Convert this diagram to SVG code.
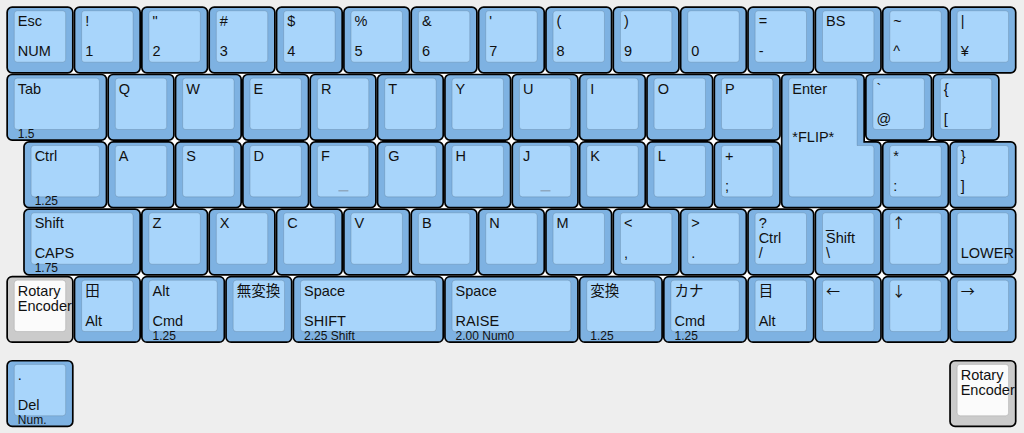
<svg xmlns="http://www.w3.org/2000/svg" width="1024" height="433" viewBox="0 0 1024 433">
<style>
.o{fill:#7eb2e2;stroke:#000;stroke-width:1.7;rx:5px;ry:5px}
.i{fill:#a8d5fb;stroke:rgba(0,0,0,0.13);stroke-width:1;rx:3px;ry:3px}
.og{fill:#cbcbcb;stroke:#000;stroke-width:1.7;rx:5px;ry:5px}
.ig{fill:#fbfbfb;stroke:rgba(0,0,0,0.13);stroke-width:1;rx:3px;ry:3px}
.po{fill:#7eb2e2;stroke:#000;stroke-width:1.7}
.pi{fill:#a8d5fb;stroke:rgba(0,0,0,0.13);stroke-width:1}
text{font-family:"Liberation Sans","DejaVu Sans","Noto Sans CJK JP",sans-serif;font-size:14.5px;fill:#111}
text.f{font-size:12px}
text.ar{font-family:"Noto Sans CJK JP","DejaVu Sans",sans-serif;font-size:14px}
.nub{fill:#8ea8c0}
.gap{fill:#ffffff}
</style>
<rect width="1024" height="433" fill="#eeeeee"/>
<g id="gaps">
<rect class="gap" x="12.3" y="69.65" width="981.4" height="8"/>
<rect class="gap" x="29.14" y="137" width="964.56" height="8"/>
<rect class="gap" x="29.14" y="204.35" width="981.41" height="8"/>
<rect class="gap" x="29.14" y="271.7" width="981.41" height="8"/>
</g>
<!-- Row 0 -->
<g id="k-esc" transform="translate(6.3,6.3)"><rect class="o" x="0.85" y="0.85" width="65.65" height="65.65"/><rect class="i" x="8" y="4.5" width="51.35" height="51.35"/><text x="11.5" y="20">Esc</text><text x="11.5" y="50">NUM</text></g>
<g id="k-1" transform="translate(73.65,6.3)"><rect class="o" x="0.85" y="0.85" width="65.65" height="65.65"/><rect class="i" x="8" y="4.5" width="51.35" height="51.35"/><text x="11.5" y="20">!</text><text x="11.5" y="50">1</text></g>
<g id="k-2" transform="translate(141,6.3)"><rect class="o" x="0.85" y="0.85" width="65.65" height="65.65"/><rect class="i" x="8" y="4.5" width="51.35" height="51.35"/><text x="11.5" y="20">&quot;</text><text x="11.5" y="50">2</text></g>
<g id="k-3" transform="translate(208.35,6.3)"><rect class="o" x="0.85" y="0.85" width="65.65" height="65.65"/><rect class="i" x="8" y="4.5" width="51.35" height="51.35"/><text x="11.5" y="20">#</text><text x="11.5" y="50">3</text></g>
<g id="k-4" transform="translate(275.7,6.3)"><rect class="o" x="0.85" y="0.85" width="65.65" height="65.65"/><rect class="i" x="8" y="4.5" width="51.35" height="51.35"/><text x="11.5" y="20">$</text><text x="11.5" y="50">4</text></g>
<g id="k-5" transform="translate(343.05,6.3)"><rect class="o" x="0.85" y="0.85" width="65.65" height="65.65"/><rect class="i" x="8" y="4.5" width="51.35" height="51.35"/><text x="11.5" y="20">%</text><text x="11.5" y="50">5</text></g>
<g id="k-6" transform="translate(410.4,6.3)"><rect class="o" x="0.85" y="0.85" width="65.65" height="65.65"/><rect class="i" x="8" y="4.5" width="51.35" height="51.35"/><text x="11.5" y="20">&amp;</text><text x="11.5" y="50">6</text></g>
<g id="k-7" transform="translate(477.75,6.3)"><rect class="o" x="0.85" y="0.85" width="65.65" height="65.65"/><rect class="i" x="8" y="4.5" width="51.35" height="51.35"/><text x="11.5" y="20">'</text><text x="11.5" y="50">7</text></g>
<g id="k-8" transform="translate(545.1,6.3)"><rect class="o" x="0.85" y="0.85" width="65.65" height="65.65"/><rect class="i" x="8" y="4.5" width="51.35" height="51.35"/><text x="11.5" y="20">(</text><text x="11.5" y="50">8</text></g>
<g id="k-9" transform="translate(612.45,6.3)"><rect class="o" x="0.85" y="0.85" width="65.65" height="65.65"/><rect class="i" x="8" y="4.5" width="51.35" height="51.35"/><text x="11.5" y="20">)</text><text x="11.5" y="50">9</text></g>
<g id="k-0" transform="translate(679.8,6.3)"><rect class="o" x="0.85" y="0.85" width="65.65" height="65.65"/><rect class="i" x="8" y="4.5" width="51.35" height="51.35"/><text x="11.5" y="50">0</text></g>
<g id="k-minus" transform="translate(747.15,6.3)"><rect class="o" x="0.85" y="0.85" width="65.65" height="65.65"/><rect class="i" x="8" y="4.5" width="51.35" height="51.35"/><text x="11.5" y="20">=</text><text x="11.5" y="50">-</text></g>
<g id="k-bs" transform="translate(814.5,6.3)"><rect class="o" x="0.85" y="0.85" width="65.65" height="65.65"/><rect class="i" x="8" y="4.5" width="51.35" height="51.35"/><text x="11.5" y="20">BS</text></g>
<g id="k-caret" transform="translate(881.85,6.3)"><rect class="o" x="0.85" y="0.85" width="65.65" height="65.65"/><rect class="i" x="8" y="4.5" width="51.35" height="51.35"/><text x="11.5" y="20">~</text><text x="11.5" y="50">^</text></g>
<g id="k-yen" transform="translate(949.2,6.3)"><rect class="o" x="0.85" y="0.85" width="65.65" height="65.65"/><rect class="i" x="8" y="4.5" width="51.35" height="51.35"/><text x="11.5" y="20">|</text><text x="11.5" y="50">¥</text></g>
<!-- Row 1 -->
<g id="k-tab" transform="translate(6.3,73.65)"><rect class="o" x="0.85" y="0.85" width="99.33" height="65.65"/><rect class="i" x="8" y="4.5" width="85.03" height="51.35"/><text x="11.5" y="20">Tab</text><text class="f" x="11.5" y="64">1.5</text></g>
<g id="k-q" transform="translate(107.33,73.65)"><rect class="o" x="0.85" y="0.85" width="65.65" height="65.65"/><rect class="i" x="8" y="4.5" width="51.35" height="51.35"/><text x="11.5" y="20">Q</text></g>
<g id="k-w" transform="translate(174.68,73.65)"><rect class="o" x="0.85" y="0.85" width="65.65" height="65.65"/><rect class="i" x="8" y="4.5" width="51.35" height="51.35"/><text x="11.5" y="20">W</text></g>
<g id="k-e" transform="translate(242.03,73.65)"><rect class="o" x="0.85" y="0.85" width="65.65" height="65.65"/><rect class="i" x="8" y="4.5" width="51.35" height="51.35"/><text x="11.5" y="20">E</text></g>
<g id="k-r" transform="translate(309.38,73.65)"><rect class="o" x="0.85" y="0.85" width="65.65" height="65.65"/><rect class="i" x="8" y="4.5" width="51.35" height="51.35"/><text x="11.5" y="20">R</text></g>
<g id="k-t" transform="translate(376.73,73.65)"><rect class="o" x="0.85" y="0.85" width="65.65" height="65.65"/><rect class="i" x="8" y="4.5" width="51.35" height="51.35"/><text x="11.5" y="20">T</text></g>
<g id="k-y" transform="translate(444.08,73.65)"><rect class="o" x="0.85" y="0.85" width="65.65" height="65.65"/><rect class="i" x="8" y="4.5" width="51.35" height="51.35"/><text x="11.5" y="20">Y</text></g>
<g id="k-u" transform="translate(511.43,73.65)"><rect class="o" x="0.85" y="0.85" width="65.65" height="65.65"/><rect class="i" x="8" y="4.5" width="51.35" height="51.35"/><text x="11.5" y="20">U</text></g>
<g id="k-i" transform="translate(578.78,73.65)"><rect class="o" x="0.85" y="0.85" width="65.65" height="65.65"/><rect class="i" x="8" y="4.5" width="51.35" height="51.35"/><text x="11.5" y="20">I</text></g>
<g id="k-o" transform="translate(646.13,73.65)"><rect class="o" x="0.85" y="0.85" width="65.65" height="65.65"/><rect class="i" x="8" y="4.5" width="51.35" height="51.35"/><text x="11.5" y="20">O</text></g>
<g id="k-p" transform="translate(713.48,73.65)"><rect class="o" x="0.85" y="0.85" width="65.65" height="65.65"/><rect class="i" x="8" y="4.5" width="51.35" height="51.35"/><text x="11.5" y="20">P</text></g>
<g id="k-at" transform="translate(865.01,73.65)"><rect class="o" x="0.85" y="0.85" width="65.65" height="65.65"/><rect class="i" x="8" y="4.5" width="51.35" height="51.35"/><text x="11.5" y="20">`</text><text x="11.5" y="50">@</text></g>
<g id="k-lbracket" transform="translate(932.36,73.65)"><rect class="o" x="0.85" y="0.85" width="65.65" height="65.65"/><rect class="i" x="8" y="4.5" width="51.35" height="51.35"/><text x="11.5" y="20">{</text><text x="11.5" y="50">[</text></g>
<!-- Row 2 -->
<g id="k-ctrl" transform="translate(23.14,141)"><rect class="o" x="0.85" y="0.85" width="82.49" height="65.65"/><rect class="i" x="8" y="4.5" width="68.19" height="51.35"/><text x="11.5" y="20">Ctrl</text><text class="f" x="11.5" y="64">1.25</text></g>
<g id="k-a" transform="translate(107.33,141)"><rect class="o" x="0.85" y="0.85" width="65.65" height="65.65"/><rect class="i" x="8" y="4.5" width="51.35" height="51.35"/><text x="11.5" y="20">A</text></g>
<g id="k-s" transform="translate(174.68,141)"><rect class="o" x="0.85" y="0.85" width="65.65" height="65.65"/><rect class="i" x="8" y="4.5" width="51.35" height="51.35"/><text x="11.5" y="20">S</text></g>
<g id="k-d" transform="translate(242.03,141)"><rect class="o" x="0.85" y="0.85" width="65.65" height="65.65"/><rect class="i" x="8" y="4.5" width="51.35" height="51.35"/><text x="11.5" y="20">D</text></g>
<g id="k-f" transform="translate(309.38,141)"><rect class="o" x="0.85" y="0.85" width="65.65" height="65.65"/><rect class="i" x="8" y="4.5" width="51.35" height="51.35"/><text x="11.5" y="20">F</text><rect class="nub" x="29" y="49" width="10" height="1.5"/></g>
<g id="k-g" transform="translate(376.73,141)"><rect class="o" x="0.85" y="0.85" width="65.65" height="65.65"/><rect class="i" x="8" y="4.5" width="51.35" height="51.35"/><text x="11.5" y="20">G</text></g>
<g id="k-h" transform="translate(444.08,141)"><rect class="o" x="0.85" y="0.85" width="65.65" height="65.65"/><rect class="i" x="8" y="4.5" width="51.35" height="51.35"/><text x="11.5" y="20">H</text></g>
<g id="k-j" transform="translate(511.43,141)"><rect class="o" x="0.85" y="0.85" width="65.65" height="65.65"/><rect class="i" x="8" y="4.5" width="51.35" height="51.35"/><text x="11.5" y="20">J</text><rect class="nub" x="29" y="49" width="10" height="1.5"/></g>
<g id="k-k" transform="translate(578.78,141)"><rect class="o" x="0.85" y="0.85" width="65.65" height="65.65"/><rect class="i" x="8" y="4.5" width="51.35" height="51.35"/><text x="11.5" y="20">K</text></g>
<g id="k-l" transform="translate(646.13,141)"><rect class="o" x="0.85" y="0.85" width="65.65" height="65.65"/><rect class="i" x="8" y="4.5" width="51.35" height="51.35"/><text x="11.5" y="20">L</text></g>
<g id="k-semicolon" transform="translate(713.48,141)"><rect class="o" x="0.85" y="0.85" width="65.65" height="65.65"/><rect class="i" x="8" y="4.5" width="51.35" height="51.35"/><text x="11.5" y="20">+</text><text x="11.5" y="50">;</text></g>
<g id="k-colon" transform="translate(881.85,141)"><rect class="o" x="0.85" y="0.85" width="65.65" height="65.65"/><rect class="i" x="8" y="4.5" width="51.35" height="51.35"/><text x="11.5" y="20">*</text><text x="11.5" y="50">:</text></g>
<g id="k-rbracket" transform="translate(949.2,141)"><rect class="o" x="0.85" y="0.85" width="65.65" height="65.65"/><rect class="i" x="8" y="4.5" width="51.35" height="51.35"/><text x="11.5" y="20">}</text><text x="11.5" y="50">]</text></g>
<!-- Enter -->
<g id="k-enter" transform="translate(780.83,73.65)"><path class="po" d="M5.85,0.85 H78.34 Q83.34,0.85 83.34,5.85 V68.2 H95.18 Q100.18,68.2 100.18,73.2 V128.85 Q100.18,133.85 95.18,133.85 H5.85 Q0.85,133.85 0.85,128.85 V5.85 Q0.85,0.85 5.85,0.85 Z"/><path class="pi" d="M11,4.5 H73.19 Q76.19,4.5 76.19,7.5 V71.85 H90.03 Q93.03,71.85 93.03,74.85 V120.2 Q93.03,123.2 90.03,123.2 H11 Q8,123.2 8,120.2 V7.5 Q8,4.5 11,4.5 Z"/><text x="11.5" y="20">Enter</text><text x="11.5" y="68">*FLIP*</text></g>
<!-- Row 3 -->
<g id="k-lshift" transform="translate(23.14,208.35)"><rect class="o" x="0.85" y="0.85" width="116.16" height="65.65"/><rect class="i" x="8" y="4.5" width="101.86" height="51.35"/><text x="11.5" y="20">Shift</text><text x="11.5" y="50">CAPS</text><text class="f" x="11.5" y="64">1.75</text></g>
<g id="k-z" transform="translate(141,208.35)"><rect class="o" x="0.85" y="0.85" width="65.65" height="65.65"/><rect class="i" x="8" y="4.5" width="51.35" height="51.35"/><text x="11.5" y="20">Z</text></g>
<g id="k-x" transform="translate(208.35,208.35)"><rect class="o" x="0.85" y="0.85" width="65.65" height="65.65"/><rect class="i" x="8" y="4.5" width="51.35" height="51.35"/><text x="11.5" y="20">X</text></g>
<g id="k-c" transform="translate(275.7,208.35)"><rect class="o" x="0.85" y="0.85" width="65.65" height="65.65"/><rect class="i" x="8" y="4.5" width="51.35" height="51.35"/><text x="11.5" y="20">C</text></g>
<g id="k-v" transform="translate(343.05,208.35)"><rect class="o" x="0.85" y="0.85" width="65.65" height="65.65"/><rect class="i" x="8" y="4.5" width="51.35" height="51.35"/><text x="11.5" y="20">V</text></g>
<g id="k-b" transform="translate(410.4,208.35)"><rect class="o" x="0.85" y="0.85" width="65.65" height="65.65"/><rect class="i" x="8" y="4.5" width="51.35" height="51.35"/><text x="11.5" y="20">B</text></g>
<g id="k-n" transform="translate(477.75,208.35)"><rect class="o" x="0.85" y="0.85" width="65.65" height="65.65"/><rect class="i" x="8" y="4.5" width="51.35" height="51.35"/><text x="11.5" y="20">N</text></g>
<g id="k-m" transform="translate(545.1,208.35)"><rect class="o" x="0.85" y="0.85" width="65.65" height="65.65"/><rect class="i" x="8" y="4.5" width="51.35" height="51.35"/><text x="11.5" y="20">M</text></g>
<g id="k-comma" transform="translate(612.45,208.35)"><rect class="o" x="0.85" y="0.85" width="65.65" height="65.65"/><rect class="i" x="8" y="4.5" width="51.35" height="51.35"/><text x="11.5" y="20">&lt;</text><text x="11.5" y="50">,</text></g>
<g id="k-period" transform="translate(679.8,208.35)"><rect class="o" x="0.85" y="0.85" width="65.65" height="65.65"/><rect class="i" x="8" y="4.5" width="51.35" height="51.35"/><text x="11.5" y="20">&gt;</text><text x="11.5" y="50">.</text></g>
<g id="k-slash" transform="translate(747.15,208.35)"><rect class="o" x="0.85" y="0.85" width="65.65" height="65.65"/><rect class="i" x="8" y="4.5" width="51.35" height="51.35"/><text x="11.5" y="20">?</text><text x="11.5" y="35">Ctrl</text><text x="11.5" y="50">/</text></g>
<g id="k-backslash" transform="translate(814.5,208.35)"><rect class="o" x="0.85" y="0.85" width="65.65" height="65.65"/><rect class="i" x="8" y="4.5" width="51.35" height="51.35"/><text x="11.5" y="20">_</text><text x="11.5" y="35">Shift</text><text x="11.5" y="50">\</text></g>
<g id="k-up" transform="translate(881.85,208.35)"><rect class="o" x="0.85" y="0.85" width="65.65" height="65.65"/><rect class="i" x="8" y="4.5" width="51.35" height="51.35"/><text class="ar" x="10" y="20">↑</text></g>
<g id="k-lower" transform="translate(949.2,208.35)"><rect class="o" x="0.85" y="0.85" width="65.65" height="65.65"/><rect class="i" x="8" y="4.5" width="51.35" height="51.35"/><text x="11.5" y="50">LOWER</text></g>
<!-- Row 4 -->
<g id="k-rotary-left" transform="translate(6.3,275.7)"><rect class="og" x="0.85" y="0.85" width="65.65" height="65.65"/><rect class="ig" x="8" y="4.5" width="51.35" height="51.35"/><text x="11.5" y="20">Rotary</text><text x="11.5" y="35">Encoder</text></g>
<g id="k-win" transform="translate(73.65,275.7)"><rect class="o" x="0.85" y="0.85" width="65.65" height="65.65"/><rect class="i" x="8" y="4.5" width="51.35" height="51.35"/><text x="11.5" y="20">田</text><text x="11.5" y="50">Alt</text></g>
<g id="k-alt" transform="translate(141,275.7)"><rect class="o" x="0.85" y="0.85" width="82.49" height="65.65"/><rect class="i" x="8" y="4.5" width="68.19" height="51.35"/><text x="11.5" y="20">Alt</text><text x="11.5" y="50">Cmd</text><text class="f" x="11.5" y="64">1.25</text></g>
<g id="k-muhenkan" transform="translate(225.19,275.7)"><rect class="o" x="0.85" y="0.85" width="65.65" height="65.65"/><rect class="i" x="8" y="4.5" width="51.35" height="51.35"/><text x="11.5" y="20">無変換</text></g>
<g id="k-space-shift" transform="translate(292.54,275.7)"><rect class="o" x="0.85" y="0.85" width="149.84" height="65.65"/><rect class="i" x="8" y="4.5" width="135.54" height="51.35"/><text x="11.5" y="20">Space</text><text x="11.5" y="50">SHIFT</text><text class="f" x="11.5" y="64">2.25 Shift</text></g>
<g id="k-space-raise" transform="translate(444.08,275.7)"><rect class="o" x="0.85" y="0.85" width="133" height="65.65"/><rect class="i" x="8" y="4.5" width="118.7" height="51.35"/><text x="11.5" y="20">Space</text><text x="11.5" y="50">RAISE</text><text class="f" x="11.5" y="64">2.00 Num0</text></g>
<g id="k-henkan" transform="translate(578.78,275.7)"><rect class="o" x="0.85" y="0.85" width="82.49" height="65.65"/><rect class="i" x="8" y="4.5" width="68.19" height="51.35"/><text x="11.5" y="20">変換</text><text class="f" x="11.5" y="64">1.25</text></g>
<g id="k-kana" transform="translate(662.96,275.7)"><rect class="o" x="0.85" y="0.85" width="82.49" height="65.65"/><rect class="i" x="8" y="4.5" width="68.19" height="51.35"/><text x="11.5" y="20">カナ</text><text x="11.5" y="50">Cmd</text><text class="f" x="11.5" y="64">1.25</text></g>
<g id="k-menu" transform="translate(747.15,275.7)"><rect class="o" x="0.85" y="0.85" width="65.65" height="65.65"/><rect class="i" x="8" y="4.5" width="51.35" height="51.35"/><text x="11.5" y="20">目</text><text x="11.5" y="50">Alt</text></g>
<g id="k-left" transform="translate(814.5,275.7)"><rect class="o" x="0.85" y="0.85" width="65.65" height="65.65"/><rect class="i" x="8" y="4.5" width="51.35" height="51.35"/><text class="ar" x="11.5" y="20">←</text></g>
<g id="k-down" transform="translate(881.85,275.7)"><rect class="o" x="0.85" y="0.85" width="65.65" height="65.65"/><rect class="i" x="8" y="4.5" width="51.35" height="51.35"/><text class="ar" x="10" y="20">↓</text></g>
<g id="k-right" transform="translate(949.2,275.7)"><rect class="o" x="0.85" y="0.85" width="65.65" height="65.65"/><rect class="i" x="8" y="4.5" width="51.35" height="51.35"/><text class="ar" x="11.5" y="20">→</text></g>
<!-- Row 5.25 -->
<g id="k-del" transform="translate(6.3,359.89)"><rect class="o" x="0.85" y="0.85" width="65.65" height="65.65"/><rect class="i" x="8" y="4.5" width="51.35" height="51.35"/><text x="11.5" y="20">.</text><text x="11.5" y="50">Del</text><text class="f" x="11.5" y="64">Num.</text></g>
<g id="k-rotary-right" transform="translate(949.2,359.89)"><rect class="og" x="0.85" y="0.85" width="65.65" height="65.65"/><rect class="ig" x="8" y="4.5" width="51.35" height="51.35"/><text x="11.5" y="20">Rotary</text><text x="11.5" y="35">Encoder</text></g>
<g id="connectors"/>
</svg>
